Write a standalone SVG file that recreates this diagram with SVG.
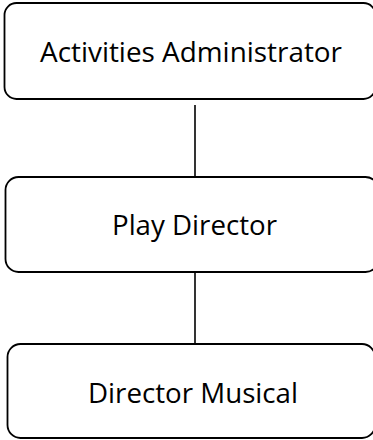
<svg xmlns="http://www.w3.org/2000/svg" width="373" height="440" viewBox="0 0 373 440">
<style>
.box{fill:#fff;stroke:#000;stroke-width:1.8}
.lbl{font-family:"Open Sans","Liberation Sans",sans-serif;font-size:27px;fill:#000;text-anchor:middle}
.conn{stroke:#000;stroke-width:1.6;fill:none}
</style>
<rect width="373" height="440" fill="#fff"/>
<g id="connectors">
<line class="conn" x1="195" y1="105" x2="195" y2="177"/>
<line class="conn" x1="195" y1="272" x2="195" y2="344"/>
</g>
<g id="node-activities-administrator">
<rect class="box" x="4.5" y="3" width="371" height="96" rx="12"/>
<text class="lbl" x="191" y="62" textLength="302" lengthAdjust="spacingAndGlyphs">Activities Administrator</text>
</g>
<g id="node-play-director">
<rect class="box" x="5.5" y="177" width="373" height="95" rx="13"/>
<text class="lbl" x="194.5" y="235" textLength="165" lengthAdjust="spacingAndGlyphs">Play Director</text>
</g>
<g id="node-director-musical">
<rect class="box" x="7.5" y="344" width="367.5" height="94" rx="13"/>
<text class="lbl" x="193" y="403" textLength="210" lengthAdjust="spacingAndGlyphs">Director Musical</text>
</g>
</svg>
